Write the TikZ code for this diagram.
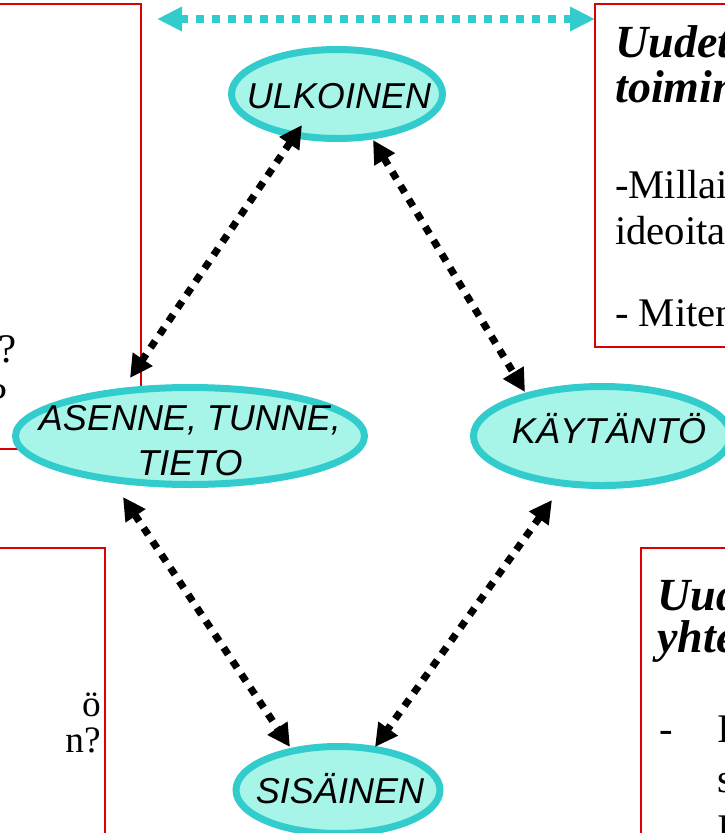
\documentclass[tikz,border=0pt]{standalone}
\usepackage{fontspec}
\setmainfont{Liberation Serif}
\newfontfamily\arialf{Liberation Sans}
\usetikzlibrary{arrows.meta,shapes.geometric}
\definecolor{tealline}{RGB}{51,204,204}
\definecolor{aqfill}{RGB}{166,245,232}
\definecolor{boxred}{RGB}{220,0,0}
\begin{document}
\begin{tikzpicture}[x=0.75pt,y=-0.75pt,
  redbox/.style={draw=boxred,line width=1.5pt,rectangle,inner sep=0pt,outer sep=0pt,anchor=north west},
  oval/.style={ellipse,draw=tealline,fill=aqfill,line width=5.25pt,inner sep=0pt,outer sep=0pt},
  ovaltext/.style={font=\arialf\itshape\fontsize{27}{33.75}\selectfont,align=center,inner sep=0pt},
  boxtxt/.style={font=\fontsize{30.5}{36}\selectfont,inner sep=0pt},
  boxhead/.style={font=\bfseries\itshape\fontsize{34.5}{40}\selectfont,inner sep=0pt},
  smalltxt/.style={font=\fontsize{28}{33}\selectfont,inner sep=0pt},
  dotarr/.style={line width=5.4pt,dash pattern=on 6pt off 6pt,
    {Triangle[length=17pt,width=17pt]}-{Triangle[length=17pt,width=17pt]}},
  tealarr/.style={draw=tealline,line width=6pt,dash pattern=on 6pt off 6pt,
    {Triangle[length=18.75pt,width=17.25pt,fill=tealline]}-{Triangle[length=18.75pt,width=17.25pt,fill=tealline]}}
]
\useasboundingbox (0,0) rectangle (725,833);
\clip (0,0) rectangle (725,833);

% red text boxes
\node[redbox,minimum width=120.75pt,minimum height=333.75pt] (tl) at (-20,4) {};
\node[redbox,minimum width=123.75pt,minimum height=257.25pt] (tr) at (595,4) {};
\node[redbox,minimum width=93.75pt,minimum height=234pt] (bl) at (-20,548) {};
\node[redbox,minimum width=89.25pt,minimum height=234pt] (br) at (641,548) {};

% texts in the boxes
\node[boxtxt,anchor=base east] (tlq1) at (17,362) {?};
\node[boxtxt,anchor=base east] (tlq2) at (8,411) {?};

\node[boxhead,anchor=base west] (trh1) at (615,57) {Uudet};
\node[boxhead,anchor=base west] (trh2) at (615,102) {toimin};
\node[boxtxt,anchor=base west] (trt1) at (615,198) {-Millai};
\node[boxtxt,anchor=base west] (trt2) at (615,244) {ideoita};
\node[boxtxt,anchor=base west] (trt3) at (615,326) {- Miten};

\node[smalltxt,anchor=base east] (blt1) at (101,716) {ö};
\node[smalltxt,anchor=base east] (blt2) at (101,752) {n?};

\node[boxhead,anchor=base west] (brh1) at (657,610) {Uud};
\node[boxhead,anchor=base west] (brh2) at (657,652) {yhte};
\node[boxtxt,anchor=base west] (brt1) at (659,742) {-};
\node[boxtxt,anchor=base west] (brt2) at (717,742) {I};
\node[boxtxt,anchor=base west] (brt3) at (717,792) {s};
\node[boxtxt,anchor=base west] (brt4) at (717,842) {I};

% teal arrow between the two upper boxes
\draw[tealarr] ([shift={(16,15)}]tl.north east) -- ([shift={(0,15)}]tr.north west);

% ellipses
\node[oval,minimum width=158.25pt,minimum height=66.75pt] (ulk) at (337,94) {};
\node[oval,minimum width=261.75pt,minimum height=72.75pt] (ase) at (190,436) {};
\node[oval,minimum width=192.75pt,minimum height=74.25pt] (kay) at (602,436) {};
\node[oval,minimum width=153pt,minimum height=65.25pt] (sis) at (338,790) {};

\node[ovaltext,anchor=base] (ulkt) at (339,108) {ULKOINEN};
\node[ovaltext,anchor=center] (aset) at (190,441) {ASENNE, TUNNE,\\TIETO};
\node[ovaltext,anchor=base] (kayt) at (609,443) {KÄYTÄNTÖ};
\node[ovaltext,anchor=base] (sist) at (340,803) {SISÄINEN};

% black dotted double arrows
\draw[dotarr] ([shift={(-35,31)}]ulk.center) -- ([shift={(-60,-58)}]ase.center);
\draw[dotarr] ([shift={(36,46)}]ulk.center) -- ([shift={(-77,-44)}]kay.center);
\draw[dotarr] ([shift={(-67,61)}]ase.center) -- ([shift={(-48,-43)}]sis.center);
\draw[dotarr] ([shift={(-50,64)}]kay.center) -- ([shift={(37,-43)}]sis.center);
\end{tikzpicture}
\end{document}
